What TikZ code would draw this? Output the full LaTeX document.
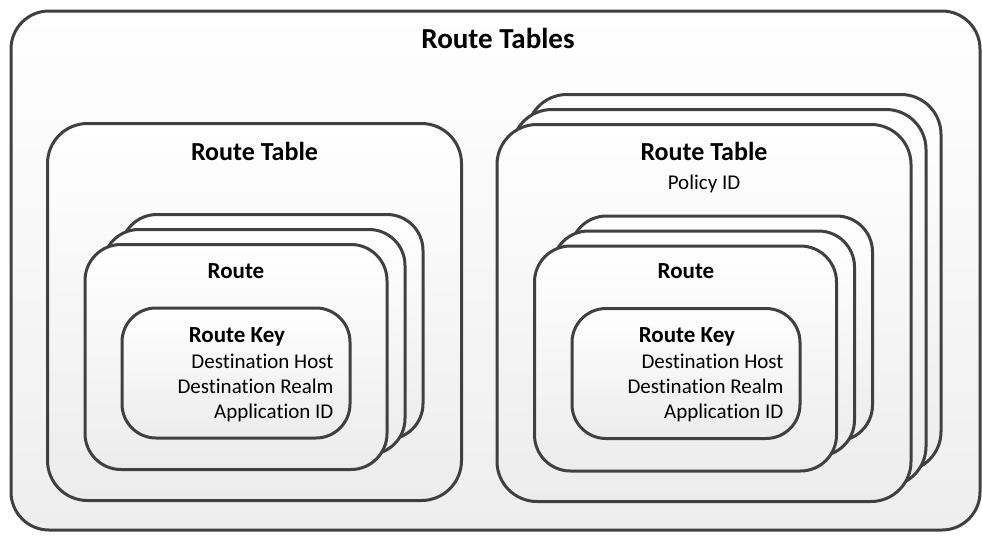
\documentclass[tikz,border=0pt]{standalone}
\usepackage{fontspec}
\setmainfont{Carlito}[Ligatures=NoCommon]
\usetikzlibrary{shapes.misc}

\definecolor{edge}{HTML}{404040}
\definecolor{shadebot}{HTML}{ECECEC}

\tikzset{
	box/.style={rectangle,rounded corners=#1,draw=edge,line width=3pt,
		top color=white,bottom color=shadebot,inner sep=0pt},
	tablebox/.style={box=40pt,minimum width=414pt,minimum height=377pt},
	routebox/.style={box=36pt,minimum width=302pt,minimum height=225pt},
	keybox/.style={box=34pt,minimum width=228pt,minimum height=130pt},
	bigtitle/.style={anchor=base,font=\fontsize{29}{33}\selectfont\bfseries},
	title/.style={anchor=base,font=\fontsize{26}{30}\selectfont\bfseries},
	subtitle/.style={anchor=base,font=\fontsize{23}{27}\selectfont\bfseries},
	field/.style={anchor=base east,font=\fontsize{21}{25}\selectfont},
	plain/.style={anchor=base,font=\fontsize{21}{25}\selectfont}
}

\begin{document}
\begin{tikzpicture}
		[x=1pt,y=-1pt]
		\useasboundingbox (0,0) rectangle (982,538);
		\node[box=38pt,minimum width=969pt,minimum height=519pt,bottom color=shadebot!90!white] (tables) at (495.5,270.5) {};
		\node[bigtitle] (tablestitle) at (498,48) {Route Tables};

		% left table
		\node[tablebox] (tblA) at (254.5,312) {};
		\node[title] (tblAtitle) at (254.5,160) {Route Table};
		\node[routebox] (rtA3) at (272,327) {};
		\node[routebox] (rtA2) at (254,342) {};
		\node[routebox] (rtA1) at (236,357) {};
		\node[subtitle] (rtAtitle) at (236,278) {Route};
		\node[keybox] (keyA) at (236,373) {};
		\node[subtitle] (keyAtitle) at (237,342) {Route Key};
		\node[field] (keyAhost) at (337,368) {Destination Host};
		\node[field] (keyArealm) at (337,393) {Destination Realm};
		\node[field] (keyAapp) at (337,418) {Application ID};

		% right table, stacked
		\node[tablebox] (tblB3) at (734,283) {};
		\node[tablebox] (tblB2) at (719,298) {};
		\node[tablebox] (tblB1) at (704,313) {};
		\node[title] (tblBtitle) at (704,160) {Route Table};
		\node[plain] (tblBpolicy) at (704,189) {Policy ID};
		\node[routebox] (rtB3) at (721.5,328.5) {};
		\node[routebox] (rtB2) at (703.5,343.5) {};
		\node[routebox] (rtB1) at (685.5,358.5) {};
		\node[subtitle] (rtBtitle) at (686,278) {Route};
		\node[keybox] (keyB) at (686,373.5) {};
		\node[subtitle] (keyBtitle) at (687,342) {Route Key};
		\node[field] (keyBhost) at (787,368) {Destination Host};
		\node[field] (keyBrealm) at (787,393) {Destination Realm};
		\node[field] (keyBapp) at (787,418) {Application ID};
	\end{tikzpicture}
\end{document}
